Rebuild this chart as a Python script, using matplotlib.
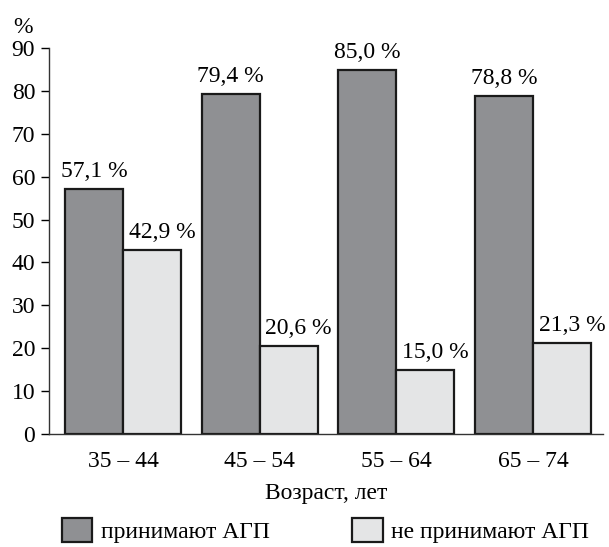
import matplotlib
matplotlib.use("Agg")
import matplotlib.pyplot as plt
import numpy as np
from matplotlib.patches import Patch

plt.rcParams['font.family'] = ['Liberation Serif', 'DejaVu Serif']

age_groups = ["35 – 44", "45 – 54", "55 – 64", "65 – 74"]
taking = [57.1, 79.4, 85.0, 78.8]
not_taking = [42.9, 20.6, 15.0, 21.3]
series_names = ["принимают АГП", "не принимают АГП"]
y_ticks = [0, 10, 20, 30, 40, 50, 60, 70, 80, 90]

dark = "#8f9093"
light = "#e4e5e6"
fs = 17

fig = plt.figure(figsize=(6.09, 5.47), dpi=100)
ax = fig.add_axes([0.0805, 0.2066, 0.9095, 0.7054])

x = np.arange(len(age_groups))
w = 0.424
b1 = ax.bar(x - w / 2, taking, w, color=dark, edgecolor="#1a1a1a", linewidth=1.6)
b2 = ax.bar(x + w / 2, not_taking, w, color=light, edgecolor="#1a1a1a", linewidth=1.6)

# value labels; those over the light bars sit a little to the right
for bars, vals, dx in ((b1, taking, 0.0), (b2, not_taking, 0.073)):
    for rect, v in zip(bars, vals):
        ax.text(rect.get_x() + rect.get_width() / 2 + dx, v + 1.6,
                f"{v:.1f}".replace(".", ",") + " %",
                ha="center", va="bottom", fontsize=fs)

ax.set_ylim(0, 90)
ax.set_xlim(-0.541, 3.51)
ax.set_yticks(y_ticks)
ax.set_xticks(x)
ax.set_xticklabels(age_groups)
ax.tick_params(axis="y", direction="out", length=6, width=1, labelsize=fs, pad=4)
ax.tick_params(axis="x", length=0, labelsize=fs, pad=12)
for s in ("top", "right"):
    ax.spines[s].set_visible(False)
for s in ("left", "bottom"):
    ax.spines[s].set_linewidth(1.0)
    ax.spines[s].set_color("#333333")

ax.set_xlabel("Возраст, лет", fontsize=fs, labelpad=8)
fig.text(0.022, 0.93, "%", fontsize=fs, ha="left", va="bottom")

handles = [Patch(facecolor=dark, edgecolor="#1a1a1a", linewidth=1.6),
           Patch(facecolor=light, edgecolor="#1a1a1a", linewidth=1.6)]
fig.legend(handles, series_names, loc="lower center", bbox_to_anchor=(0.534, -0.027),
           ncol=2, frameon=False, fontsize=fs, handlelength=1.3, handleheight=1.15,
           handletextpad=0.35, columnspacing=3.5, borderpad=0.3)

fig.savefig("out.png", dpi=100)
